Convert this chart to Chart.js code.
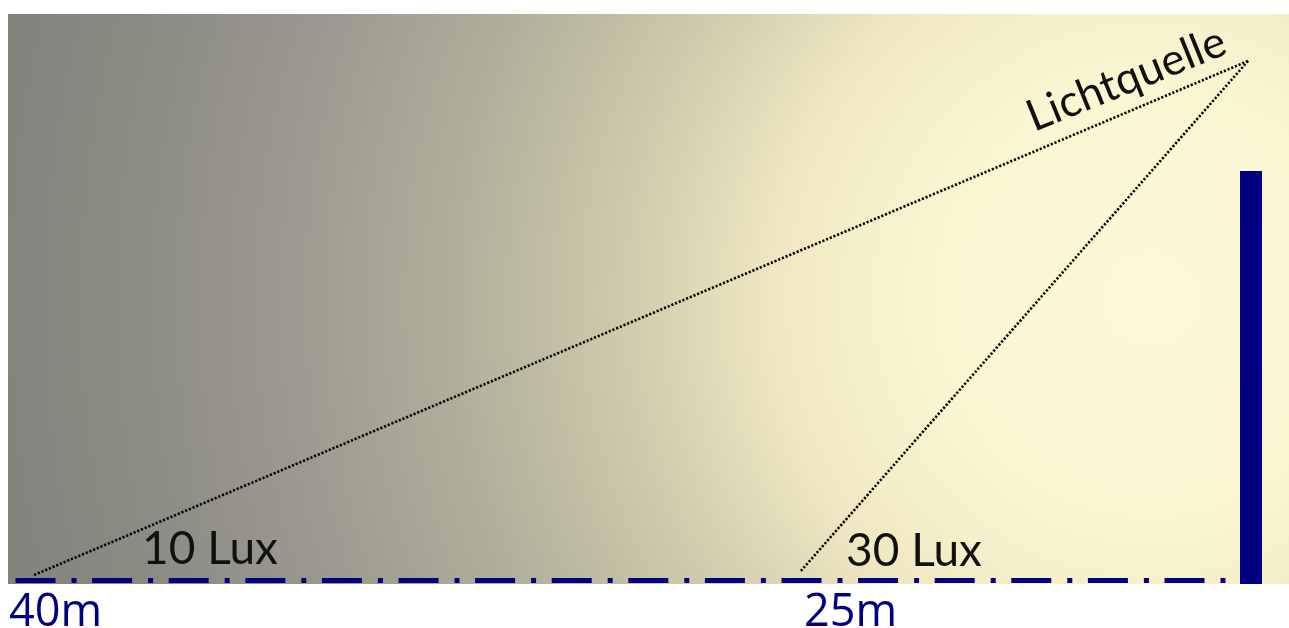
<!DOCTYPE html>
<html>
<head>
<meta charset="utf-8">
<script src="https://cdn.jsdelivr.net/npm/chart.js@4/dist/chart.umd.min.js"></script>
<style>
  html, body { margin: 0; padding: 0; background: #ffffff; }
  #wrap { width: 1289px; height: 628px; }
</style>
</head>
<body>
<div id="wrap"><canvas id="c" width="1289" height="628"></canvas></div>
<script>
// ---- Diagram data (diagram units, x to the right, y downward) ----
const distanceLabels = ['40m', '25m'];
const luxLabels = ['10 Lux', '30 Lux'];
const sourceLabel = ['Lichtquelle'];
const lightSource = [1248, 61];          // x, y of the light source
const beamEndsX = [34, 800];             // where each beam meets the ground
const beamEndsY = [575, 572];
const groundX = [15.5, 1226];            // start / end of the ground line
const groundY = [580.5, 580.5];
const poleX = [1251, 1251];
const poleY = [171, 584];
const panelX = [8, 1289];                // background panel extent
const panelY = [14, 584];

const NAVY = '#000080';

function pts(xs, ys) { return xs.map((x, i) => ({ x: x, y: ys[i] })); }

const backgroundPlugin = {
  id: 'panel',
  beforeDraw(chart) {
    const { ctx, scales: { x, y } } = chart;
    ctx.save();
    ctx.fillStyle = '#ffffff';
    ctx.fillRect(0, 0, chart.width, chart.height);
    const x0 = x.getPixelForValue(panelX[0]), x1 = x.getPixelForValue(panelX[1]);
    const y0 = y.getPixelForValue(panelY[0]), y1 = y.getPixelForValue(panelY[1]);
    const cx = x.getPixelForValue(1150), cy = y.getPixelForValue(300);
    const g = ctx.createRadialGradient(cx, cy, 0, cx, cy, 1210);
    g.addColorStop(0.00, 'rgb(252,249,216)');
    g.addColorStop(0.18, 'rgb(250,246,210)');
    g.addColorStop(0.31, 'rgb(240,232,195)');
    g.addColorStop(0.44, 'rgb(206,201,171)');
    g.addColorStop(0.59, 'rgb(174,172,154)');
    g.addColorStop(0.70, 'rgb(158,156,144)');
    g.addColorStop(0.85, 'rgb(140,139,132)');
    g.addColorStop(1.00, 'rgb(128,128,122)');
    ctx.fillStyle = g;
    ctx.fillRect(x0, y0, x1 - x0, y1 - y0);
    ctx.restore();
  }
};

const labelsPlugin = {
  id: 'labels',
  afterDatasetsDraw(chart) {
    const { ctx, scales: { x, y } } = chart;
    ctx.save();
    // Lux labels
    ctx.fillStyle = '#111111';
    ctx.font = '46px Lato';
    ctx.textBaseline = 'alphabetic';
    ctx.textAlign = 'left';
    const luxAnchors = [[142, 564], [846, 566]];
    luxLabels.forEach((t, i) => {
      ctx.fillText(t, x.getPixelForValue(luxAnchors[i][0]), y.getPixelForValue(luxAnchors[i][1]));
    });
    // distance labels
    ctx.fillStyle = NAVY;
    ctx.font = '45px "Open Sans"';
    const distAnchors = [[9, 626], [804, 626]];
    distanceLabels.forEach((t, i) => {
      ctx.fillText(t, x.getPixelForValue(distAnchors[i][0]), y.getPixelForValue(distAnchors[i][1]));
    });
    // light source label
    ctx.fillStyle = '#111111';
    ctx.font = '44px Lato';
    ctx.translate(x.getPixelForValue(1034), y.getPixelForValue(132));
    ctx.rotate(-22 * Math.PI / 180);
    ctx.fillText(sourceLabel[0], 0, 0);
    ctx.restore();
  }
};

new Chart(document.getElementById('c'), {
  type: 'scatter',
  data: {
    datasets: [
      {
        label: 'Boden',
        data: pts(groundX, groundY),
        showLine: true,
        borderColor: NAVY,
        borderWidth: 5,
        borderDash: [40, 16, 5, 15.6],
        borderCapStyle: 'butt',
        pointRadius: 0
      },
      {
        label: 'Mast',
        data: pts(poleX, poleY),
        showLine: true,
        borderColor: NAVY,
        borderWidth: 22,
        borderCapStyle: 'butt',
        pointRadius: 0
      },
      {
        label: '10 Lux',
        data: [{ x: lightSource[0], y: lightSource[1] }, { x: beamEndsX[0], y: beamEndsY[0] }],
        showLine: true,
        borderColor: '#000000',
        borderWidth: 2.6,
        borderDash: [2.2, 1.8],
        borderCapStyle: 'butt',
        pointRadius: 0
      },
      {
        label: '30 Lux',
        data: [{ x: lightSource[0], y: lightSource[1] }, { x: beamEndsX[1], y: beamEndsY[1] }],
        showLine: true,
        borderColor: '#000000',
        borderWidth: 2.6,
        borderDash: [2.2, 1.8],
        borderCapStyle: 'butt',
        pointRadius: 0
      }
    ]
  },
  options: {
    responsive: false,
    animation: false,
    devicePixelRatio: 1,
    layout: { padding: 0 },
    plugins: { legend: { display: false }, tooltip: { enabled: false } },
    scales: {
      x: { type: 'linear', min: 0, max: 1289, display: false },
      y: { type: 'linear', min: 0, max: 628, reverse: true, display: false }
    },
    clip: false
  },
  plugins: [backgroundPlugin, labelsPlugin]
});
</script>
</body>
</html>
